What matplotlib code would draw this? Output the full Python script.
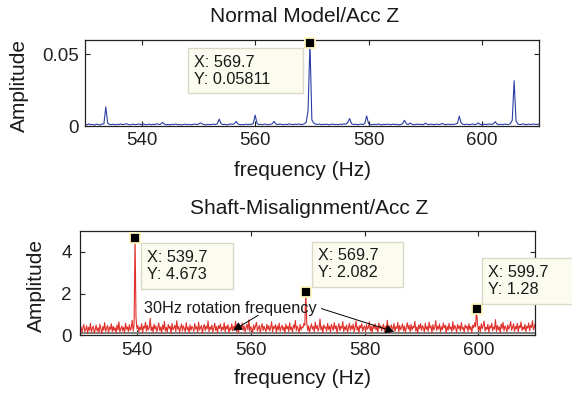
import numpy as np
import matplotlib
matplotlib.use("Agg")
import matplotlib.pyplot as plt
from matplotlib.patches import Rectangle
from matplotlib.transforms import IdentityTransform

plt.rcParams['font.family'] = ['Liberation Sans', 'DejaVu Sans']

# normal model spectrum: 530 .. 610 Hz, 1/3 Hz resolution
freq_normal = np.linspace(530, 610, 241)
# shaft misalignment spectrum: 530 .. 610 Hz, 1/6 Hz resolution
freq_shaft = np.linspace(530, 610, 481)

# normal model, Acc Z (amplitude)
normal_amp = [
    0.0012, 0.0008, 0.0015, 0.0009, 0.0011, 0.0006, 0.0013, 0.0010, 0.0007, 0.0014, 0.0015, 0.0133, 0.0020, 0.0011, 0.0009, 0.0013, 0.0008, 0.0012, 0.0010, 0.0014,
    0.0009, 0.0012, 0.0016, 0.0010, 0.0008, 0.0013, 0.0011, 0.0009, 0.0014, 0.0012, 0.0010, 0.0015, 0.0008, 0.0011, 0.0013, 0.0009, 0.0012, 0.0010, 0.0016, 0.0011,
    0.0012, 0.0025, 0.0013, 0.0009, 0.0011, 0.0008, 0.0012, 0.0010, 0.0014, 0.0009, 0.0011, 0.0007, 0.0010, 0.0013, 0.0009, 0.0012, 0.0008, 0.0011, 0.0014, 0.0010,
    0.0013, 0.0022, 0.0015, 0.0010, 0.0008, 0.0012, 0.0009, 0.0011, 0.0013, 0.0010, 0.0015, 0.0048, 0.0016, 0.0010, 0.0012, 0.0008, 0.0011, 0.0014, 0.0012, 0.0016,
    0.0032, 0.0014, 0.0009, 0.0011, 0.0008, 0.0013, 0.0010, 0.0012, 0.0011, 0.0018, 0.0076, 0.0018, 0.0010, 0.0012, 0.0009, 0.0014, 0.0011, 0.0008, 0.0012, 0.0015,
    0.0032, 0.0013, 0.0010, 0.0014, 0.0011, 0.0009, 0.0012, 0.0010, 0.0015, 0.0012, 0.0009, 0.0013, 0.0011, 0.0014, 0.0012, 0.0010, 0.0016, 0.0025, 0.0110, 0.0581,
    0.0042, 0.0021, 0.0013, 0.0011, 0.0014, 0.0009, 0.0012, 0.0010, 0.0013, 0.0008, 0.0011, 0.0014, 0.0010, 0.0012, 0.0009, 0.0013, 0.0011, 0.0015, 0.0012, 0.0025,
    0.0052, 0.0016, 0.0010, 0.0013, 0.0009, 0.0011, 0.0014, 0.0010, 0.0018, 0.0070, 0.0017, 0.0011, 0.0009, 0.0012, 0.0010, 0.0014, 0.0011, 0.0008, 0.0012, 0.0010,
    0.0013, 0.0011, 0.0009, 0.0014, 0.0010, 0.0012, 0.0008, 0.0011, 0.0016, 0.0040, 0.0015, 0.0010, 0.0021, 0.0012, 0.0009, 0.0011, 0.0014, 0.0010, 0.0012, 0.0009,
    0.0020, 0.0012, 0.0010, 0.0013, 0.0011, 0.0009, 0.0014, 0.0010, 0.0012, 0.0018, 0.0011, 0.0009, 0.0013, 0.0010, 0.0012, 0.0011, 0.0014, 0.0018, 0.0069, 0.0020,
    0.0012, 0.0010, 0.0013, 0.0009, 0.0011, 0.0014, 0.0010, 0.0012, 0.0022, 0.0011, 0.0009, 0.0013, 0.0010, 0.0012, 0.0014, 0.0011, 0.0015, 0.0030, 0.0013, 0.0010,
    0.0012, 0.0009, 0.0014, 0.0011, 0.0010, 0.0016, 0.0040, 0.0316, 0.0035, 0.0014, 0.0010, 0.0012, 0.0015, 0.0009, 0.0011, 0.0013, 0.0010, 0.0014, 0.0012, 0.0011,
    0.0013,
]

# shaft misalignment, Acc Z
shaft_amp = [
    0.22, 0.41, 0.13, 0.35, 0.52, 0.18, 0.29, 0.46, 0.09, 0.38, 0.24, 0.57, 0.16, 0.33, 0.44, 0.11, 0.27, 0.49, 0.20, 0.36,
    0.14, 0.53, 0.31, 0.08, 0.42, 0.25, 0.61, 0.19, 0.34, 0.47, 0.12, 0.39, 0.28, 0.55, 0.17, 0.43, 0.23, 0.37, 0.10, 0.50,
    0.26, 0.64, 0.15, 0.32, 0.45, 0.21, 0.38, 0.13, 0.58, 0.29, 0.40, 0.18, 0.51, 0.24, 0.35, 0.72, 0.20, 0.52, 4.673, 0.86,
    0.31, 0.47, 0.16, 0.39, 0.27, 0.55, 0.12, 0.43, 0.34, 0.62, 0.19, 0.48, 0.25, 0.37, 0.81, 0.22, 0.41, 0.14, 0.53, 0.30,
    0.45, 0.17, 0.36, 0.59, 0.23, 0.40, 0.11, 0.49, 0.28, 0.66, 0.20, 0.38, 0.15, 0.52, 0.33, 0.44, 0.09, 0.57, 0.26, 0.35,
    0.48, 0.18, 0.70, 0.29, 0.42, 0.13, 0.37, 0.54, 0.21, 0.45, 0.32, 0.16, 0.60, 0.27, 0.39, 0.12, 0.50, 0.24, 0.43, 0.34,
    0.19, 0.56, 0.30, 0.41, 0.14, 0.63, 0.25, 0.36, 0.47, 0.10, 0.38, 0.52, 0.22, 0.44, 0.31, 0.68, 0.17, 0.40, 0.28, 0.49,
    0.15, 0.35, 0.58, 0.23, 0.42, 0.12, 0.46, 0.33, 0.54, 0.20, 0.39, 0.27, 0.61, 0.16, 0.44, 0.30, 0.51, 0.13, 0.37, 0.25,
    0.55, 0.21, 0.43, 0.34, 0.67, 0.18, 0.40, 0.11, 0.48, 0.29, 0.36, 0.59, 0.24, 0.45, 0.15, 0.38, 0.52, 0.26, 0.74, 0.19,
    0.41, 0.32, 0.14, 0.50, 0.27, 0.44, 0.62, 0.20, 0.35, 0.47, 0.12, 0.39, 0.56, 0.23, 0.43, 0.30, 0.17, 0.53, 0.28, 0.46,
    0.21, 0.38, 0.65, 0.16, 0.42, 0.33, 0.51, 0.13, 0.45, 0.26, 0.58, 0.19, 0.37, 0.48, 0.24, 0.40, 0.11, 0.54, 0.31, 0.43,
    0.18, 0.60, 0.27, 0.39, 0.15, 0.49, 0.34, 0.71, 0.22, 0.44, 0.30, 0.13, 0.52, 0.25, 0.41, 0.36, 0.57, 0.48, 2.082, 0.62,
    0.23, 0.45, 0.14, 0.38, 0.55, 0.29, 0.42, 0.17, 0.63, 0.32, 0.47, 0.20, 0.36, 0.78, 0.26, 0.43, 0.12, 0.50, 0.34, 0.40,
    0.19, 0.57, 0.28, 0.44, 0.15, 0.52, 0.37, 0.24, 0.61, 0.31, 0.46, 0.11, 0.39, 0.55, 0.22, 0.43, 0.33, 0.66, 0.18, 0.41,
    0.27, 0.49, 0.14, 0.36, 0.58, 0.23, 0.45, 0.30, 0.53, 0.16, 0.40, 0.69, 0.25, 0.42, 0.12, 0.47, 0.35, 0.56, 0.20, 0.38,
    0.44, 0.17, 0.51, 0.29, 0.37, 0.64, 0.21, 0.43, 0.13, 0.48, 0.32, 0.55, 0.26, 0.40, 0.15, 0.59, 0.34, 0.46, 0.22, 0.39,
    0.53, 0.18, 0.42, 0.31, 0.72, 0.24, 0.45, 0.12, 0.50, 0.36, 0.28, 0.57, 0.19, 0.41, 0.33, 0.62, 0.16, 0.47, 0.27, 0.38,
    0.55, 0.21, 0.44, 0.14, 0.39, 0.60, 0.30, 0.48, 0.17, 0.52, 0.25, 0.43, 0.35, 0.67, 0.20, 0.40, 0.11, 0.49, 0.32, 0.56,
    0.23, 0.46, 0.37, 0.15, 0.58, 0.28, 0.42, 0.19, 0.63, 0.34, 0.45, 0.13, 0.51, 0.26, 0.39, 0.70, 0.22, 0.44, 0.31, 0.54,
    0.16, 0.41, 0.27, 0.59, 0.35, 0.48, 0.12, 0.43, 0.24, 0.57, 0.30, 0.40, 0.18, 0.65, 0.26, 0.47, 0.37, 0.14, 0.52, 0.33,
    0.45, 0.21, 0.61, 0.29, 0.38, 0.15, 0.50, 0.34, 0.44, 0.19, 0.56, 0.27, 0.42, 0.13, 0.48, 0.36, 0.60, 0.41, 1.28, 0.52,
    0.24, 0.43, 0.17, 0.55, 0.32, 0.46, 0.68, 0.20, 0.39, 0.28, 0.53, 0.14, 0.44, 0.35, 0.58, 0.22, 0.40, 0.30, 0.75, 0.18,
    0.47, 0.26, 0.41, 0.12, 0.54, 0.33, 0.62, 0.21, 0.45, 0.37, 0.16, 0.50, 0.29, 0.43, 0.66, 0.24, 0.38, 0.55, 0.19, 0.42,
    0.31, 0.57, 0.15, 0.46, 0.36, 0.64, 0.23, 0.40, 0.28, 0.52, 0.17, 0.44, 0.34, 0.59, 0.21, 0.48, 0.38, 0.70, 0.26, 0.43,
    0.58,
]

# gray trace lying under the red noise
base_freq = [530, 610]
base_amp = [0.12, 0.12]

# data tips (x, y, label)
normal_tips = [(569.667, 0.05811, "X: 569.7\nY: 0.05811")]
shaft_tips = [(539.667, 4.673, "X: 539.7\nY: 4.673"),
              (569.667, 2.082, "X: 569.7\nY: 2.082"),
              (599.667, 1.28, "X: 599.7\nY: 1.28")]
# box offsets from the tip, in pixels: dx, dy, width, height
normal_boxes = [(-122, -50.5, 115, 45)]
shaft_boxes = [(5.7, -51.6, 92.6, 46.6), (6, 5, 91.3, 45), (5.7, 5, 96, 45.6)]

fig = plt.figure(figsize=(5.72, 3.96), dpi=100)
ax1 = fig.add_axes([0.1486, 0.6818, 0.7932, 0.2172])
ax2 = fig.add_axes([0.1399, 0.1533, 0.7960, 0.2634])

ax1.plot(freq_normal, normal_amp, color='#2b3ea6', lw=0.8)
ax1.set_xlim(530, 610)
ax1.set_ylim(0, 0.06)
ax1.set_xticks([540, 560, 580, 600])
ax1.set_yticks([0, 0.05])
ax1.set_yticklabels(['0', '0.05'])

ax2.plot(base_freq, base_amp, color='#808080', lw=1.4)
ax2.plot(freq_shaft, shaft_amp, color='#e0302a', lw=0.8)
ax2.set_xlim(530, 610)
ax2.set_ylim(0, 5)
ax2.set_xticks([540, 560, 580, 600])
ax2.set_yticks([0, 2, 4])

for ax in (ax1, ax2):
    ax.tick_params(direction='in', length=3.5, width=0.8, top=True, right=True,
                   labelsize=13.5, pad=4.5, colors='#222222')
    for s in ax.spines.values():
        s.set_linewidth(0.9)
        s.set_color('#222222')
ax2.tick_params(axis='y', pad=6)

# titles / labels in figure pixels (origin top-left of the picture)
W, H = 572, 396
def ftext(x, y, s, size, rot=0):
    fig.text(x / W, 1 - y / H, s, fontsize=size, ha='center', va='center',
             rotation=rot, color='#1a1a1a')

ftext(305, 16, "Normal Model/Acc Z", 15)
ftext(302, 170, "frequency (Hz)", 15)
ftext(19, 85, "Amplitude", 15, rot=90)
ftext(309, 209, "Shaft-Misalignment/Acc Z", 15)
ftext(302, 378, "frequency (Hz)", 15)
ftext(36, 285, "Amplitude", 15, rot=90)

def datatip(ax, tip, box):
    x, y, label = tip
    dx, dy, w, h = box
    ax.plot([x], [y], 's', ms=6.5, mfc='black', mec='#fff6c0', mew=1.3,
            clip_on=False, zorder=6)
    px, py = ax.transData.transform((x, y))
    rect = Rectangle((px + dx, py + dy), w, h, transform=IdentityTransform(),
                     fc='#fbfbf0', ec='#d9d9c6', lw=1.0, zorder=5)
    fig.add_artist(rect)
    fig.text(px + dx + 6, py + dy + h / 2, label, transform=IdentityTransform(),
             fontsize=11.7, ha='left', va='center', linespacing=1.15,
             color='#1a1a1a', zorder=7)

fig.canvas.draw()
for tip, box in zip(normal_tips, normal_boxes):
    datatip(ax1, tip, box)
for tip, box in zip(shaft_tips, shaft_boxes):
    datatip(ax2, tip, box)

# rotation-frequency note with two arrows
ax2.text(541.2, 1.28, "30Hz rotation frequency", fontsize=11.7, ha='left',
         va='center', color='#1a1a1a', zorder=4)
ax2.annotate("", xy=(556.9, 0.23), xytext=(561.3, 0.96),
             arrowprops=dict(arrowstyle='-|>', color='black', lw=0.7,
                             mutation_scale=13, shrinkA=0, shrinkB=0))
ax2.annotate("", xy=(585.2, 0.17), xytext=(572.4, 1.28),
             arrowprops=dict(arrowstyle='-|>', color='black', lw=0.7,
                             mutation_scale=13, shrinkA=0, shrinkB=0))

fig.savefig("out.png", dpi=100)
